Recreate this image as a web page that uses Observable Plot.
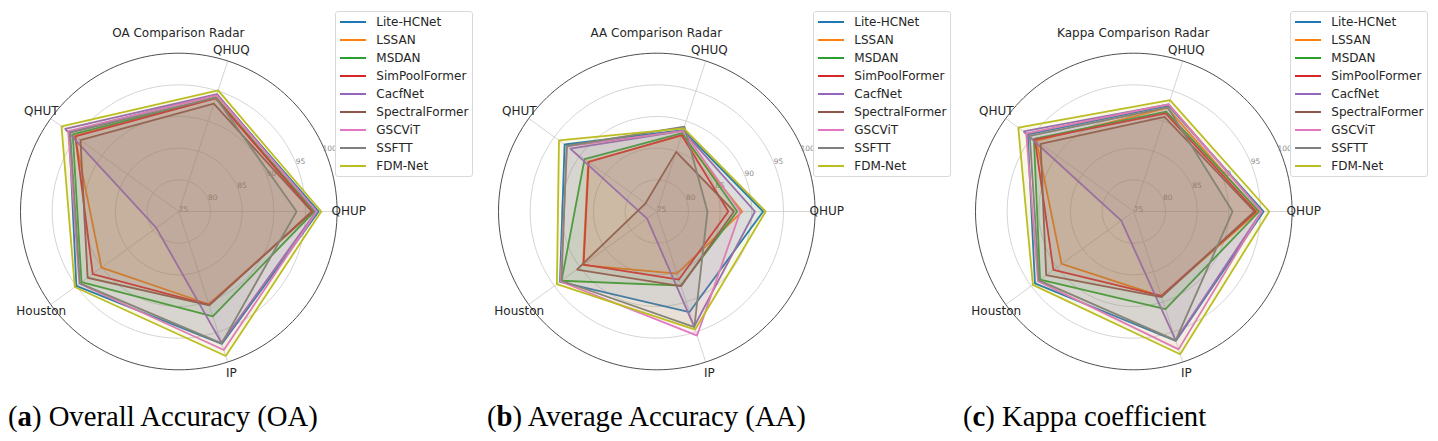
<!DOCTYPE html>
<html><head><meta charset="utf-8">
<script src="https://cdn.jsdelivr.net/npm/d3@7"></script>
<script src="https://cdn.jsdelivr.net/npm/@observablehq/plot@0.6"></script>
<style>
body{margin:0;background:#fff;}
#root{position:relative;width:1438px;height:441px;overflow:hidden;font-family:"DejaVu Sans",sans-serif;}
.panel{position:absolute;top:0;}
.title{position:absolute;font-size:12px;color:#262626;transform:translate(-50%,-50%);white-space:nowrap;}
.legend{position:absolute;background:rgba(255,255,255,0.8);border:1px solid #d9d9d9;border-radius:3px;box-sizing:border-box;}
.item{position:absolute;font-size:12px;color:#262626;white-space:nowrap;line-height:12px;}
.swatch{position:absolute;height:2px;}
.caption{position:absolute;font-family:"Palatino Linotype","Book Antiqua",Palatino,"Liberation Serif",serif;font-size:28.7px;line-height:28.7px;color:#000;white-space:nowrap;}
</style></head>
<body><div id="root"></div>
<script>
const axesLabels = ["QHUP","QHUQ","QHUT","Houston","IP"];
const models = ["Lite-HCNet","LSSAN","MSDAN","SimPoolFormer","CacfNet","SpectralFormer","GSCViT","SSFTT","FDM-Net"];
const colors = ["#1f77b4","#ff7f0e","#2ca02c","#d62728","#9467bd","#8c564b","#e377c2","#7f7f7f","#bcbd22"];
// values per model, in order of axesLabels
const oa = [
  [97.1, 94.4, 96.4, 95.0, 97.0],
  [96.2, 94.0, 95.3, 90.1, 90.4],
  [96.4, 93.9, 95.7, 94.0, 92.4],
  [96.1, 93.8, 95.2, 91.8, 90.5],
  [96.7, 94.5, 97.2, 79.4, 96.8],
  [96.0, 92.9, 94.2, 92.8, 90.6],
  [96.8, 94.3, 96.6, 94.4, 98.0],
  [93.6, 93.9, 96.2, 94.3, 96.9],
  [97.5, 95.1, 97.9, 95.3, 99.0]
];
const aa = [
  [91.8, 88.5, 93.0, 93.9, 91.7],
  [88.5, 87.6, 88.4, 89.4, 85.3],
  [87.7, 88.0, 89.1, 93.6, 87.3],
  [86.3, 87.7, 88.3, 89.3, 86.3],
  [90.5, 88.4, 91.9, 76.9, 94.1],
  [87.2, 84.9, 77.2, 90.6, 87.4],
  [88.2, 88.4, 92.5, 93.8, 95.6],
  [83.0, 89.1, 92.6, 93.6, 94.2],
  [92.2, 88.8, 94.1, 94.5, 94.6]
];
const kappa = [
  [95.5, 92.6, 95.7, 94.3, 96.5],
  [94.6, 92.2, 94.0, 89.1, 89.1],
  [94.8, 91.6, 94.5, 93.3, 91.2],
  [94.3, 91.3, 94.3, 90.7, 89.0],
  [95.2, 92.8, 96.5, 77.45, 96.4],
  [94.05, 90.7, 93.2, 92.1, 89.2],
  [95.2, 92.8, 96.0, 93.7, 97.9],
  [90.6, 92.3, 95.3, 93.5, 96.4],
  [96.4, 93.5, 97.55, 94.7, 98.7]
];
const rTicks = [75, 80, 85, 90, 95, 100];
const titles = ["OA Comparison Radar", "AA Comparison Radar", "Kappa Comparison Radar"];
const captionLetters = ["a", "b", "c"];
const captionTexts = ["Overall Accuracy (OA)", "Average Accuracy (AA)", "Kappa coefficient"];
const captionLeft = [8, 487, 963];

const rMin = 75, rMax = 100, span = rMax - rMin;
const R = 158.3;               // pixel radius of the outer ring
const CX = 178.3, CY = 211;    // center within each panel
const panelLeft = [0, 478, 955];
const W = 479, H = 395;
const k = R / span;            // px per unit
const n = axesLabels.length;
const ang = i => i * 2 * Math.PI / n;

function radar(values) {
  const ringPts = [];
  for (const t of rTicks.slice(1)) {
    for (let a = 0; a <= 360; a += 2) {
      const th = a * Math.PI / 180;
      ringPts.push({ring: t, x: (t - rMin) * Math.cos(th), y: (t - rMin) * Math.sin(th)});
    }
  }
  const spokes = axesLabels.map((lab, i) => ({x1: 0, y1: 0, x2: span * Math.cos(ang(i)), y2: span * Math.sin(ang(i))}));
  const labRad = 170 / k;
  const labels = axesLabels.map((lab, i) => ({lab, x: labRad * Math.cos(ang(i)), y: labRad * Math.sin(ang(i))}));
  const tA = 22.5 * Math.PI / 180;
  const tickLabs = rTicks.map(t => ({t, x: (t - rMin + 5 / k) * Math.cos(tA), y: (t - rMin + 5 / k) * Math.sin(tA)}));

  const marks = [
    Plot.line(ringPts.filter(d => d.ring < rMax), {x: "x", y: "y", z: "ring", stroke: "#cfcfcf", strokeWidth: 0.9}),
    Plot.link(spokes, {x1: "x1", y1: "y1", x2: "x2", y2: "y2", stroke: "#cfcfcf", strokeWidth: 0.9}),
    Plot.line(ringPts.filter(d => d.ring === rMax), {x: "x", y: "y", stroke: "#3a3a3a", strokeWidth: 0.9}),
    Plot.text(tickLabs, {x: "x", y: "y", text: d => String(d.t), fill: "#8a8a8a", fontSize: 7.5, textAnchor: "middle"})
  ];
  models.forEach((m, j) => {
    const pts = axesLabels.map((lab, i) => {
      const r = values[j][i] - rMin;
      return {x: r * Math.cos(ang(i)), y: r * Math.sin(ang(i))};
    });
    marks.push(Plot.line(pts, {x: "x", y: "y", curve: "linear-closed", stroke: colors[j], strokeWidth: 1.8, fill: colors[j], fillOpacity: 0.1, strokeLinejoin: "miter"}));
  });
  marks.push(Plot.text(labels, {x: "x", y: "y", text: "lab", fontSize: 12, fill: "#262626", textAnchor: "middle"}));

  return Plot.plot({
    width: W, height: H,
    marginTop: 0, marginBottom: 0, marginLeft: 0, marginRight: 0,
    x: {type: "linear", domain: [-span, span], range: [CX - R, CX + R], axis: null},
    y: {type: "linear", domain: [-span, span], range: [CY + R, CY - R], axis: null},
    style: {fontFamily: "DejaVu Sans, sans-serif", background: "transparent", overflow: "visible"},
    marks
  });
}

const root = document.getElementById("root");
[oa, aa, kappa].forEach((vals, p) => {
  const wrap = document.createElement("div");
  wrap.className = "panel";
  wrap.style.left = panelLeft[p] + "px";
  wrap.appendChild(radar(vals));
  root.appendChild(wrap);

  const t = document.createElement("div");
  t.className = "title";
  t.textContent = titles[p];
  t.style.left = (panelLeft[p] + CX) + "px";
  t.style.top = "33px";
  root.appendChild(t);

  const lg = document.createElement("div");
  lg.className = "legend";
  lg.style.left = (panelLeft[p] + CX + 157) + "px";
  lg.style.top = "10.5px";
  lg.style.width = "138px";
  lg.style.height = "166px";
  models.forEach((m, j) => {
    const sw = document.createElement("div");
    sw.className = "swatch";
    sw.style.background = colors[j];
    sw.style.left = "4px";
    sw.style.width = "26px";
    sw.style.top = (9 + 18 * j) + "px";
    lg.appendChild(sw);
    const it = document.createElement("div");
    it.className = "item";
    it.textContent = m;
    it.style.left = "40px";
    it.style.top = (4 + 18 * j) + "px";
    lg.appendChild(it);
  });
  root.appendChild(lg);

  const c = document.createElement("div");
  c.className = "caption";
  c.innerHTML = "(<b>" + captionLetters[p] + "</b>) " + captionTexts[p];
  c.style.left = captionLeft[p] + "px";
  c.style.top = "401.5px";
  root.appendChild(c);
});
</script>
</body></html>
